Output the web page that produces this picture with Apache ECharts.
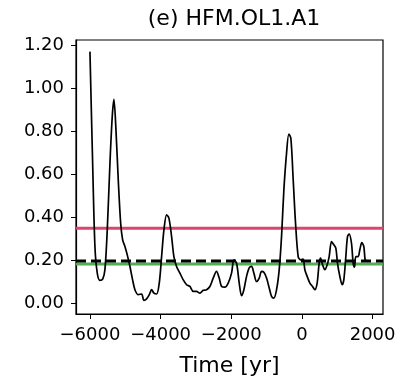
<!DOCTYPE html>
<html><head><meta charset="utf-8">
<script src="https://cdn.jsdelivr.net/npm/echarts@6/dist/echarts.min.js"></script>
<style>html,body{margin:0;padding:0;background:#fff}#c{width:396px;height:376px}</style>
</head><body><div id="c"></div>
<script>
const titleText = "(e) HFM.OL1.A1";
const xLabel = "Time [yr]";
const xTicks = [-6000, -4000, -2000, 0, 2000];
const yTicks = [0, 0.2, 0.4, 0.6, 0.8, 1.0, 1.2];
const years = [-6000,-5924,-5859,-5793,-5717,-5640,-5576,-5510,-5434,-5369,-5321,-5264,-5199,-5131,-5075,-5010,-4944,-4868,-4793,-4727,-4633,-4538,-4472,-4397,-4321,-4255,-4189,-4113,-4038,-3972,-3906,-3830,-3765,-3689,-3624,-3548,-3454,-3360,-3265,-3171,-3077,-2983,-2888,-2794,-2700,-2605,-2511,-2417,-2341,-2275,-2181,-2087,-1992,-1926,-1851,-1775,-1709,-1643,-1567,-1492,-1426,-1360,-1284,-1209,-1143,-1077,-1001,-926,-860,-794,-718,-643,-577,-511,-435,-370,-313,-247,-181,-106,-40,35,83,148,224,300,365,431,488,527,584,649,715,771,838,903,960,1007,1073,1139,1186,1243,1290,1337,1403,1450,1488,1526,1592,1639,1696,1752,1790,1828];
const values = [1.169,0.65,0.263,0.139,0.105,0.111,0.155,0.34,0.65,0.867,0.947,0.805,0.573,0.372,0.294,0.263,0.224,0.17,0.108,0.062,0.039,0.042,0.012,0.019,0.039,0.062,0.046,0.042,0.093,0.216,0.34,0.41,0.395,0.309,0.216,0.17,0.139,0.108,0.085,0.077,0.054,0.054,0.046,0.059,0.062,0.077,0.116,0.147,0.116,0.077,0.074,0.093,0.139,0.201,0.186,0.093,0.034,0.062,0.124,0.163,0.17,0.139,0.1,0.116,0.147,0.143,0.116,0.07,0.031,0.023,0.062,0.155,0.309,0.526,0.697,0.786,0.766,0.573,0.372,0.216,0.201,0.204,0.155,0.124,0.093,0.077,0.062,0.093,0.186,0.209,0.178,0.155,0.178,0.216,0.286,0.271,0.255,0.186,0.124,0.085,0.108,0.216,0.309,0.321,0.278,0.186,0.167,0.216,0.216,0.248,0.281,0.263,0.2,0.198];
const redLevel = 0.348;
const greenLevel = 0.181;
const blackLevel = 0.196;

const chart = echarts.init(document.getElementById('c'), null, {renderer:'canvas'});
const font = 'DejaVu Sans';
const lineData = years.map((y,i)=>[y, values[i]]);
const hline = (v)=>[[-6395, v],[2295, v]];
chart.setOption({
  animation:false,
  title:{text:titleText, left:229, top:3, textAlign:'center',
    textStyle:{fontFamily:font, fontSize:22, fontWeight:'normal', color:'#000'}},
  grid:{left:76, right:13, top:40, bottom:62, show:true, borderColor:'#000', borderWidth:1.2,
    outerBoundsMode:'none', containLabel:false},
  xAxis:{type:'value', min:-6395, max:2295,
    name:xLabel, nameLocation:'middle', nameGap:41,
    nameTextStyle:{fontFamily:font, fontSize:22, color:'#000'},
    axisLine:{show:true, onZero:false, lineStyle:{color:'#000', width:1.2}},
    axisTick:{show:true, length:5, customValues:xTicks, lineStyle:{color:'#000'}},
    axisLabel:{customValues:xTicks, fontFamily:font, fontSize:18, color:'#000', margin:12,
      formatter:(v)=> (v<0?'\u2212':'') + Math.abs(v)},
    splitLine:{show:false}},
  yAxis:{type:'value', min:-0.051, max:1.223,
    axisLine:{show:true, onZero:false, lineStyle:{color:'#000', width:1.2}},
    axisTick:{show:true, length:5, customValues:yTicks, lineStyle:{color:'#000'}},
    axisLabel:{customValues:yTicks, fontFamily:font, fontSize:18, color:'#000', margin:12,
      formatter:(v)=> v.toFixed(2)},
    splitLine:{show:false}},
  series:[
    {type:'line', data:hline(redLevel), symbol:'none', lineStyle:{color:'#d9466f', width:3}, z:2},
    {type:'line', data:hline(greenLevel), symbol:'none', lineStyle:{color:'#52ae52', width:3}, z:2},
    {type:'line', data:hline(blackLevel), symbol:'none', lineStyle:{color:'#000', width:3, type:[10,5]}, z:3},
    {type:'line', data:lineData, symbol:'none', smooth:0.3, lineStyle:{color:'#000', width:1.7}, z:4}
  ]
});
</script></body></html>
